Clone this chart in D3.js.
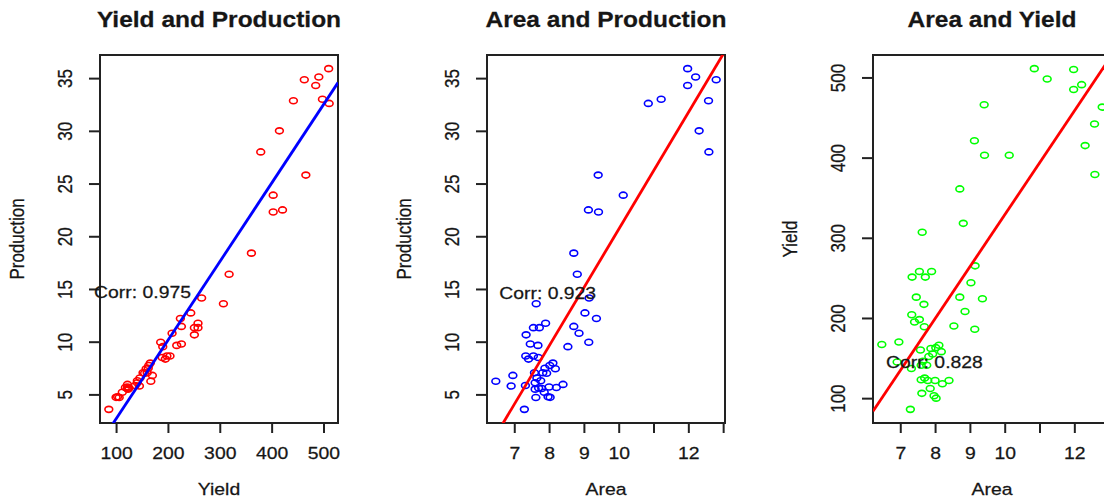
<!DOCTYPE html>
<html><head><meta charset="utf-8">
<script src="https://cdn.jsdelivr.net/npm/d3@7"></script>
<style>
html,body{margin:0;padding:0;background:#fff;}
svg{display:block;}
text{font-family:"Liberation Sans",Arial,Helvetica,sans-serif;fill:#161616;stroke:#161616;stroke-width:0.25px;}
</style></head><body>
<svg id="chart" width="1104" height="500"></svg>
<script>
// ---- data (one entry per observation) ----
const area = [10.85,11.22,11.98,11.98,12.21,12.80,12.58,12.31,12.59,9.41,9.13,9.42,10.13,8.71,8.81,7.63,9.15,7.34,7.55,7.72,7.90,9.03,7.46,8.71,9.36,7.68,8.86,7.33,7.55,7.41,7.69,8.54,9.14,6.47,6.96,7.58,7.88,8.02,8.11,8.18,7.82,7.93,6.91,7.32,7.60,7.76,7.60,7.70,7.79,8.00,8.21,8.40,7.86,7.62,7.97,8.03,7.29,7.65];
const yieldVals = [511,498,510,485,491,463,442,415,379,466,421,403,403,361,318,307,265,251,258,251,258,244,226,226,224,217,208,204,198,195,189,190,186,167,170,160,162,163,166,158,152,155,145,137,141,141,123,125,122,122,118,122,112,106,103,100,86,146];
const production = [32.6,33.0,35.9,34.3,35.1,34.85,32.85,30.0,28.0,25.8,22.5,22.3,23.9,18.4,16.4,13.6,14.15,10.65,11.33,11.33,11.75,12.73,9.78,11.45,12.2,9.65,10.8,8.64,8.64,8.35,8.5,9.53,9.95,6.25,6.8,7.05,7.48,7.74,7.97,7.44,7.06,7.0,5.79,5.85,6.1,6.3,5.5,5.6,5.56,5.7,5.65,5.95,5.2,4.7,4.78,4.72,3.58,6.55];

const panelTitles = ["Yield and Production","Area and Production","Area and Yield"];
const xAxisTitles = ["Yield","Area","Area"];
const yAxisTitles = ["Production","Production","Yield"];
const corrLabels = ["Corr: 0.975","Corr: 0.923","Corr: 0.828"];
const corrAtX = [151, 7.96, 7.98];
const corrAtY = [14.7, 14.66, 145.5];
const yieldTicks = [100,200,300,400,500];
const productionTicks = [5,10,15,20,25,30,35];
const areaTicks = [7,8,9,10,11,12,13];
const areaTickLabels = ["7","8","9","10","","12",""];

// ---- layout / style ----
const SX = 1.14;
const panelLeft = [100, 487, 873];
const panelW = 238, plotTop = 55, plotBottom = 423;
const pointColors = ["#ff0000","#0000ff","#00ff00"];
const lineColors = ["#0000ff","#ff0000","#ff0000"];
const svg = d3.select("#chart");

function rDomain(v){const lo=d3.min(v),hi=d3.max(v),e=(hi-lo)*0.04;return [lo-e,hi+e];}
function fit(x,y){const mx=d3.mean(x),my=d3.mean(y);let sxy=0,sxx=0;x.forEach((d,i)=>{sxy+=(d-mx)*(y[i]-my);sxx+=(d-mx)*(d-mx);});const b=sxy/sxx;return {a:my-b*mx,b};}

const panels = [
  {xs:yieldVals, ys:production, xt:yieldTicks, xl:yieldTicks.map(String), yt:productionTicks},
  {xs:area, ys:production, xt:areaTicks, xl:areaTickLabels, yt:productionTicks},
  {xs:area, ys:yieldVals, xt:areaTicks, xl:areaTickLabels, yt:yieldTicks}
];

panels.forEach((p,k)=>{
  const L = panelLeft[k], R = L+panelW;
  const x = d3.scaleLinear().domain(rDomain(p.xs)).range([L,R]);
  const y = d3.scaleLinear().domain(rDomain(p.ys)).range([plotBottom,plotTop]);
  const g = svg.append("g");
  const cid = "clip"+k;
  svg.append("clipPath").attr("id",cid).append("rect").attr("x",L).attr("y",plotTop).attr("width",panelW).attr("height",plotBottom-plotTop);

  g.append("g").selectAll("ellipse").data(p.xs.map((d,i)=>[d,p.ys[i]])).join("ellipse")
    .attr("cx",d=>x(d[0])).attr("cy",d=>y(d[1])).attr("rx",3.9).attr("ry",3.0)
    .attr("fill","none").attr("stroke",pointColors[k]).attr("stroke-width",1.6);

  g.append("rect").attr("x",L).attr("y",plotTop).attr("width",panelW).attr("height",plotBottom-plotTop)
    .attr("fill","none").attr("stroke","#222").attr("stroke-width",2);

  const ax = g.append("g").attr("transform",`translate(0,${plotBottom})`)
    .call(d3.axisBottom(x).tickValues(p.xt).tickFormat((d,i)=>p.xl[i]).tickSize(10).tickPadding(14.4));
  ax.select(".domain").remove();
  ax.attr("font-family",null);
  ax.selectAll("line").attr("stroke","#222").attr("stroke-width",2);
  ax.selectAll("text").attr("font-size",17).attr("fill",null).attr("transform",`scale(${SX},1)`);

  const ay = g.append("g").attr("transform",`translate(${L},0)`)
    .call(d3.axisLeft(y).tickValues(p.yt).tickSize(11));
  ay.select(".domain").remove();
  ay.attr("font-family",null);
  ay.selectAll("line").attr("stroke","#222").attr("stroke-width",2);
  ay.selectAll("text").attr("x",null).attr("dy","0.36em").attr("text-anchor","middle").attr("font-size",17).attr("fill",null)
    .attr("transform",`translate(-35,0) scale(${SX},1) rotate(-90)`);

  const f = fit(p.xs,p.ys);
  const xd = x.domain();
  g.append("line").attr("clip-path",`url(#${cid})`)
    .attr("x1",x(xd[0])).attr("y1",y(f.a+f.b*xd[0])).attr("x2",x(xd[1])).attr("y2",y(f.a+f.b*xd[1]))
    .attr("stroke",lineColors[k]).attr("stroke-width",2.8);

  g.append("text").attr("transform",`translate(${x(corrAtX[k])},${y(corrAtY[k])}) scale(${SX},1)`)
    .attr("text-anchor","middle").attr("dy","0.36em").attr("font-size",17).text(corrLabels[k]);

  const cx = (L+R)/2;
  g.append("text").attr("transform",`translate(${cx},27) scale(${SX},1)`).attr("text-anchor","middle")
    .attr("font-size",21.5).attr("font-weight","bold").text(panelTitles[k]);
  g.append("text").attr("transform",`translate(${cx},495) scale(${SX},1)`).attr("text-anchor","middle")
    .attr("font-size",17).text(xAxisTitles[k]);
  g.append("text").attr("transform",`translate(${L-83},${(plotTop+plotBottom)/2}) scale(${SX},1) rotate(-90)`).attr("text-anchor","middle")
    .attr("dy","0.36em").attr("font-size",17).text(yAxisTitles[k]);
});
</script>
</body></html>
